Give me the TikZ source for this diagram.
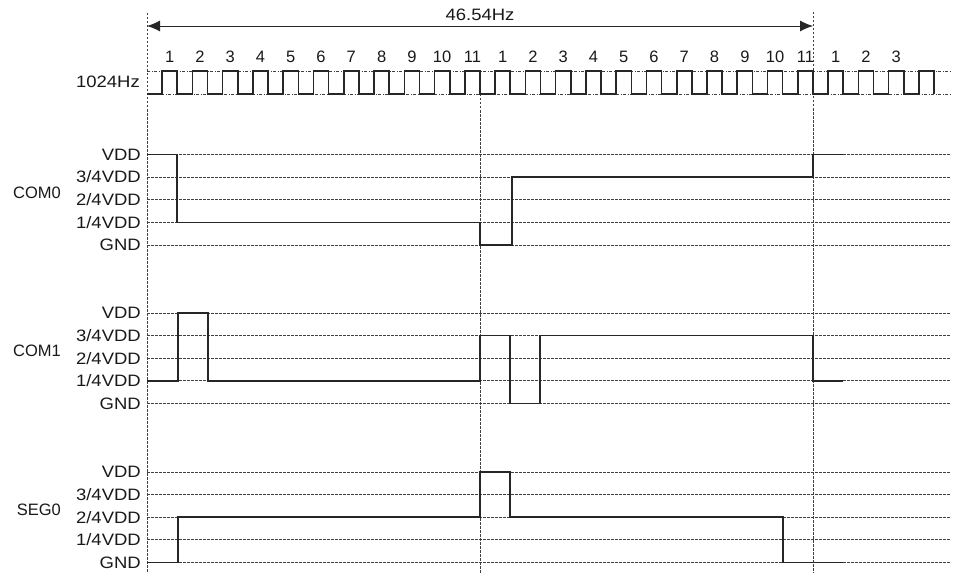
\documentclass[tikz,border=0pt]{standalone}
\usepackage{fontspec}
\setmainfont{Liberation Sans}
\usetikzlibrary{arrows.meta,positioning,calc}

\begin{document}
\begin{tikzpicture}[x=1pt, y=-1pt, font=\fontsize{16.5}{20}\selectfont]
\tikzstyle{guide}=[draw=black!75, line width=0.8pt, dash pattern=on 2.5pt off 1.5pt]
\tikzstyle{clkguide}=[draw=black!75, line width=0.8pt, dash pattern=on 3pt off 1.5pt on 1pt off 1.5pt]
\tikzstyle{wave}=[draw=black!85, line width=1.6pt, line join=miter]
\tikzstyle{lvl}=[anchor=east, inner sep=0pt, xscale=1.12, text=black!90]
\tikzstyle{sig}=[anchor=east, inner sep=0pt, text=black!90]
\tikzstyle{num}=[inner sep=0pt, text=black!90]
\def\per{30.27}
\useasboundingbox (0,0) rectangle (973,575);
%
% frame of one 46.54Hz period
\draw[guide] (147,13) -- (147,573);
\draw[guide] (480,94) -- (480,573);
\draw[guide] (813,12) -- (813,573);
\coordinate (fl) at (147,26);
\coordinate (fr) at (813,26);
\draw[{Latex[length=13pt,width=11pt]}-{Latex[length=13pt,width=11pt]}, line width=0.9pt, black!85]
    (fl) -- (fr) node[midway, above=5pt, num, xscale=1.12] (frq) {46.54Hz};
%
% 1024Hz clock
\node[lvl] (clk) at (140,82) {1024Hz};
\draw[clkguide] (147,71) -- (950,71);
\draw[clkguide] (147,94) -- (950,94);
\draw[wave] (147,94) \foreach \i in {0,...,25} {
    -- ({147+\i*\per+\per/2},94) -- ({147+\i*\per+\per/2},71)
    -- ({147+(\i+1)*\per},71) -- ({147+(\i+1)*\per},94) };
\foreach \g/\m in {0/11,1/11,2/3}
  \foreach \n in {1,...,\m}
    \node[num] (n\g-\n) at ({147+(\g*11+\n-1)*\per+0.75*\per},57) {\n};
%
% level guides and names
\foreach \b/\s in {154.5/COM0,313/COM1,472/SEG0} {
  \foreach \t [count=\k from 0] in {VDD,3/4VDD,2/4VDD,1/4VDD,GND} {
    \draw[guide] (147,{\b+\k*22.6}) -- (950,{\b+\k*22.6});
    \node[lvl] (\s-\k) at (141,{\b+\k*22.6}) {\t};
  }
  \node[sig] (\s) at (61,{\b+38}) {\s};
}
%
% COM0
\draw[wave] (147,154.5) -| (177,222.3) -| (480,244.9) -| (512,177.1) -| (813,154.5) -- (843,154.5);
% COM1
\draw[wave] (147,380.8) -| (178,313) -| (208,380.8) -| (480,335.6) -| (510,403.4) -| (540,335.6) -| (813,380.8) -- (843,380.8);
% SEG0
\draw[wave] (147,562.4) -| (178,517.2) -| (480,472) -| (510,517.2) -| (783,562.4) -- (843,562.4);
\end{tikzpicture}
\end{document}
